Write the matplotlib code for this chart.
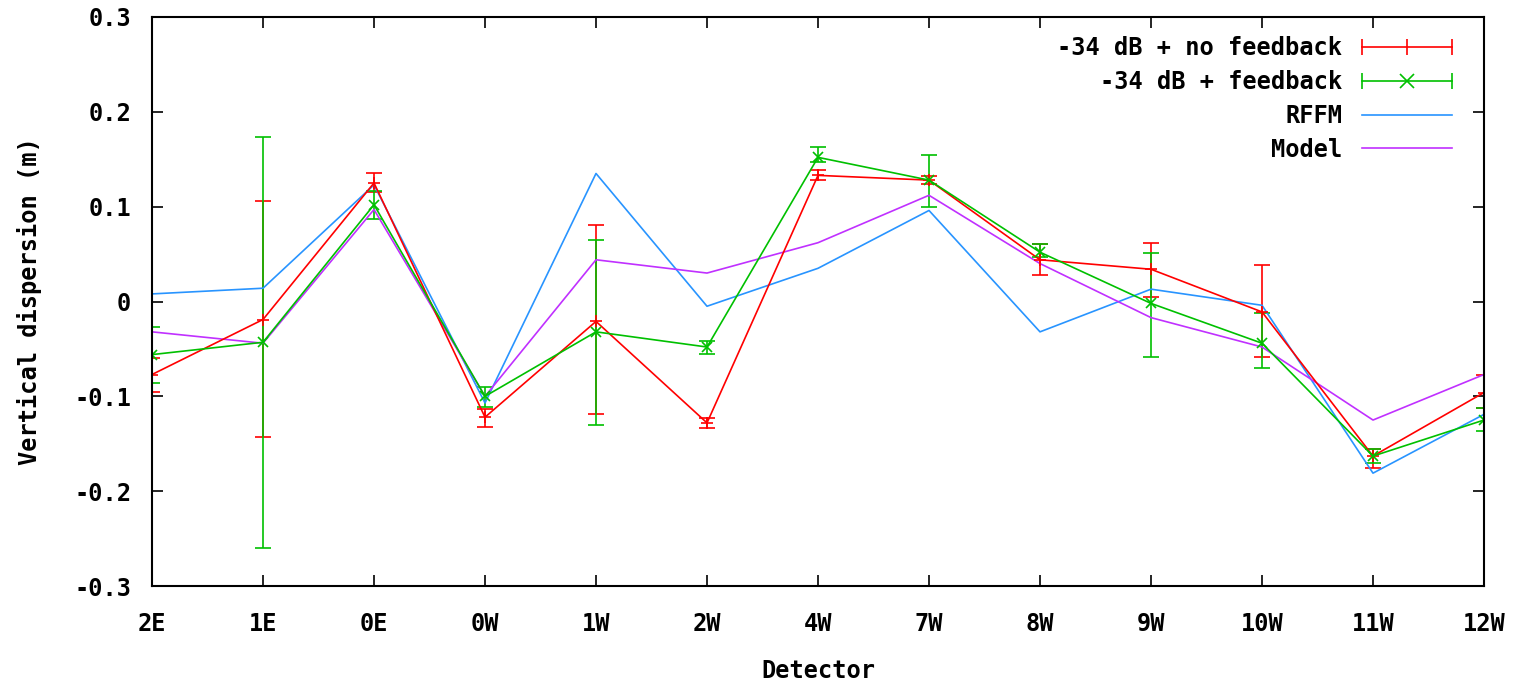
import numpy as np
import matplotlib
matplotlib.use("Agg")
from matplotlib import pyplot as plt
from matplotlib.lines import Line2D
from matplotlib.legend_handler import HandlerBase

detectors = ["2E", "1E", "0E", "0W", "1W", "2W", "4W", "7W", "8W", "9W", "10W", "11W", "12W"]

# -34 dB + no feedback (value, low end, high end of error bar)
nofb = [-0.077, -0.019, 0.125, -0.122, -0.021, -0.128, 0.133, 0.128, 0.044, 0.034, -0.011, -0.163, -0.096]
nofb_lo = [-0.095, -0.143, 0.115, -0.132, -0.119, -0.133, 0.128, 0.124, 0.028, 0.005, -0.059, -0.176, -0.112]
nofb_hi = [-0.060, 0.106, 0.135, -0.113, 0.081, -0.123, 0.139, 0.132, 0.061, 0.062, 0.038, -0.156, -0.077]

# -34 dB + feedback
fb = [-0.056, -0.043, 0.102, -0.100, -0.032, -0.048, 0.152, 0.128, 0.052, -0.002, -0.044, -0.163, -0.125]
fb_lo = [-0.086, -0.260, 0.087, -0.111, -0.130, -0.055, 0.147, 0.100, 0.047, -0.059, -0.070, -0.170, -0.137]
fb_hi = [-0.027, 0.173, 0.117, -0.090, 0.065, -0.042, 0.163, 0.154, 0.061, 0.051, -0.012, -0.156, -0.112]

rffm = [0.008, 0.014, 0.123, -0.107, 0.135, -0.005, 0.035, 0.096, -0.032, 0.013, -0.004, -0.181, -0.119]
model = [-0.032, -0.044, 0.097, -0.100, 0.044, 0.030, 0.062, 0.112, 0.040, -0.017, -0.048, -0.125, -0.077]

labels = ["-34 dB + no feedback", "-34 dB + feedback", "RFFM", "Model"]
colors = ["#ff0000", "#00c000", "#2894ff", "#c030ff"]

x = np.arange(len(detectors))
font = "DejaVu Sans Mono"
fs = 17
lw = 1.2


class ErrHandler(HandlerBase):
    # gnuplot-like legend sample: line with caps at both ends and point in the middle
    def create_artists(self, legend, orig_handle, xdescent, ydescent, width, height, fontsize, trans):
        y = height / 2 - ydescent
        x0 = -xdescent
        x1 = x0 + width
        c = orig_handle.get_color()
        line = Line2D([x0, x1], [y, y], color=c, lw=lw)
        caps = Line2D([x0, x1], [y, y], ls="none", marker="|", ms=12, mew=lw, color=c)
        mid = Line2D([(x0 + x1) / 2], [y], ls="none", marker=orig_handle.get_marker(),
                     ms=orig_handle.get_markersize() * 1.4, mew=lw, color=c)
        for a in (line, caps, mid):
            a.set_transform(trans)
        return [line, caps, mid]


def errs(v, lo, hi):
    v = np.array(v)
    return [v - np.array(lo), np.array(hi) - v]


fig = plt.figure(figsize=(15.3, 6.87), dpi=100)
ax = fig.add_axes([152/1530, 1-586/687, (1484-152)/1530, (586-17)/687])

ax.errorbar(x, nofb, yerr=errs(nofb, nofb_lo, nofb_hi), color=colors[0], lw=lw,
            marker="+", ms=8, mew=lw, capsize=6, capthick=lw, elinewidth=lw)
ax.errorbar(x, fb, yerr=errs(fb, fb_lo, fb_hi), color=colors[1], lw=lw,
            marker="x", ms=7, mew=lw, capsize=6, capthick=lw, elinewidth=lw)
ax.plot(x, rffm, color=colors[2], lw=lw)
ax.plot(x, model, color=colors[3], lw=lw)

h_nofb = Line2D([], [], color=colors[0], marker="|", ms=8)
h_fb = Line2D([], [], color=colors[1], marker="x", ms=7)
h_rffm = Line2D([], [], color=colors[2], lw=lw)
h_model = Line2D([], [], color=colors[3], lw=lw)

ax.set_xlim(0, len(detectors) - 1)
ax.set_ylim(-0.3, 0.3)
ax.set_xticks(x)
ax.set_xticklabels(detectors)
yt = np.arange(-0.3, 0.31, 0.1)
ax.set_yticks(yt)
ax.set_yticklabels(["%.1f" % t if abs(t) > 1e-9 else "0" for t in yt])
ax.tick_params(direction="in", length=8, width=1.2, top=True, right=True, labelsize=fs)
ax.tick_params(axis="x", pad=19)
ax.tick_params(axis="y", pad=15)
for lab in ax.get_xticklabels() + ax.get_yticklabels():
    lab.set_fontfamily(font)
    lab.set_fontweight("bold")
for s in ax.spines.values():
    s.set_linewidth(1.5)

ax.set_xlabel("Detector", fontsize=fs, fontfamily=font, fontweight="bold", labelpad=16)
ax.set_ylabel("Vertical dispersion (m)", fontsize=fs, fontfamily=font, fontweight="bold", labelpad=23)

leg = ax.legend([h_nofb, h_fb, h_rffm, h_model], labels, loc="upper right", frameon=False,
                bbox_to_anchor=(1452/1530, 1 - 36/687), bbox_transform=fig.transFigure,
                markerfirst=False, handlelength=3.8, handletextpad=0.85,
                prop={"family": font, "weight": "bold", "size": fs},
                borderaxespad=0, borderpad=0, labelspacing=0.42,
                handler_map={h_nofb: ErrHandler(), h_fb: ErrHandler()})
for t in leg.get_texts():
    t.set_ha("right")

fig.savefig("out.png", dpi=100)
